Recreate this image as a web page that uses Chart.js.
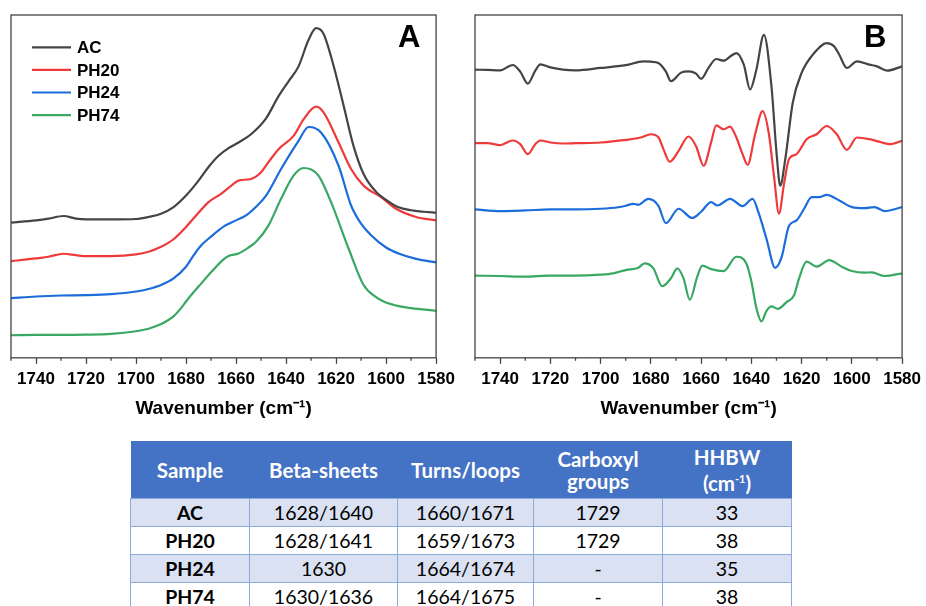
<!DOCTYPE html>
<html>
<head>
<meta charset="utf-8">
<script src="https://cdn.jsdelivr.net/npm/chart.js@4.4.1/dist/chart.umd.min.js"></script>
<style>
  html, body { margin: 0; padding: 0; background: #fff; }
  body { width: 926px; height: 606px; position: relative; overflow: hidden; }
  canvas { position: absolute; top: 0; }
  #chartA { left: 0; }
  #chartB { left: 460px; }
  table {
    position: absolute; left: 130px; top: 441px;
    border-collapse: collapse; table-layout: fixed;
    font-family: Lato, "Open Sans", sans-serif; font-size: 19.5px; color: #000;
  }
  th {
    background: #4472c4; color: #fff; font-weight: bold; font-size: 20.5px;
    height: 57px; padding: 0; line-height: 22px; text-align: center;
    border-bottom: 1px solid #8eaadb;
  }
  th sup { font-size: 11px; }
  td { height: 27px; padding: 0; text-align: center; border: 1px solid #8eaadb; line-height: 27px; }
  td.name { font-weight: bold; }
  tbody tr:nth-child(odd) td { background: #d9e1f2; }
</style>
</head>
<body>
<canvas id="chartA" width="460" height="425"></canvas>
<canvas id="chartB" width="466" height="425"></canvas>
<table id="peaks">
  <colgroup>
    <col style="width:119px"><col style="width:148px"><col style="width:136px"><col style="width:129px"><col style="width:129px">
  </colgroup>
  <thead><tr id="head"></tr></thead>
  <tbody id="rows"></tbody>
</table>
<script>
const axisColor = "#444";
const colors = { AC: "#444444", PH20: "#ee3a3a", PH24: "#1b6ddb", PH74: "#38a863" };
const samples = ["AC", "PH20", "PH24", "PH74"];

// panel A: absorbance (offset, a.u.)
const aWaveAC   = [1750,1740,1735,1729,1724,1720,1710,1700,1695,1690,1685,1680,1675,1671,1667,1663,1659,1654,1648,1643,1639,1635,1631,1628,1625,1621,1617,1613,1609,1604,1600,1595,1590,1585,1580];
const aAbsAC    = [1.36,1.383,1.40,1.427,1.40,1.393,1.393,1.397,1.417,1.45,1.517,1.633,1.783,1.92,2.033,2.11,2.167,2.25,2.41,2.633,2.783,2.933,3.20,3.317,3.26,2.94,2.54,2.13,1.85,1.67,1.59,1.515,1.485,1.47,1.46];
const aWavePH20 = [1750,1740,1735,1729,1724,1720,1710,1700,1695,1690,1685,1680,1675,1671,1666,1662,1659,1654,1650,1647,1643,1637,1633,1628,1625,1619,1614,1609,1602,1596,1588,1580];
const aAbsPH20  = [0.973,1.00,1.017,1.047,1.033,1.023,1.023,1.04,1.067,1.117,1.193,1.317,1.46,1.567,1.65,1.73,1.783,1.80,1.867,1.97,2.10,2.233,2.40,2.527,2.47,2.167,1.90,1.733,1.617,1.50,1.417,1.383];
const aWavePH24 = [1750,1740,1730,1720,1710,1700,1695,1690,1685,1680,1677,1674,1670,1665,1660,1656,1652,1648,1642,1635,1631,1626,1619,1614,1610,1606,1600,1595,1588,1580];
const aAbsPH24  = [0.60,0.617,0.627,0.63,0.64,0.667,0.693,0.733,0.80,0.917,1.03,1.13,1.22,1.32,1.383,1.433,1.52,1.633,1.90,2.183,2.323,2.267,1.933,1.533,1.35,1.233,1.11,1.05,0.995,0.96];
const aWavePH74 = [1750,1740,1720,1710,1700,1695,1690,1685,1682,1680,1677,1675,1670,1665,1663,1659,1655,1652,1647,1642,1637,1633,1630,1627,1622,1615,1609,1604,1601,1595,1590,1580];
const aAbsPH74  = [0.227,0.23,0.233,0.24,0.267,0.293,0.34,0.417,0.50,0.567,0.66,0.717,0.86,0.99,1.025,1.05,1.11,1.167,1.333,1.60,1.833,1.91,1.895,1.833,1.567,1.10,0.733,0.61,0.567,0.52,0.50,0.473];

// panel B: second derivative (offset, a.u.)
const bWaveAC   = [1750,1745,1740,1735,1732,1729,1726,1724,1720,1715,1710,1700,1690,1683,1680,1677,1674,1672,1668,1665,1662,1660,1657,1654,1651,1648,1646,1643,1640.5,1638,1635,1632,1630,1628.5,1626.5,1623.5,1620,1615,1610,1607,1605,1602,1598,1593,1590,1586,1580];
const bValAC    = [2.90,2.897,2.893,2.947,2.88,2.76,2.89,2.953,2.923,2.90,2.893,2.917,2.945,2.983,2.98,2.967,2.88,2.783,2.87,2.883,2.86,2.807,2.92,3.007,2.99,3.04,3.067,2.95,2.70,2.90,3.25,2.733,2.07,1.733,2.00,2.57,2.867,3.067,3.167,3.133,3.05,2.917,2.983,2.95,2.933,2.89,2.933];
const bWavePH20 = [1750,1745,1740,1735,1732,1729,1726,1724,1720,1715,1710,1700,1690,1684,1680,1677,1675,1672.5,1669,1665,1662,1659,1656,1654,1651,1648.5,1646,1643.5,1641.5,1638.5,1635.5,1633,1631,1629,1627,1625,1622,1618,1614,1610,1606,1602,1598,1593,1588,1585,1580];
const bValPH20  = [2.16,2.16,2.14,2.187,2.15,2.05,2.15,2.187,2.167,2.157,2.16,2.167,2.193,2.217,2.25,2.22,2.10,1.973,2.08,2.227,2.13,1.933,2.17,2.34,2.30,2.327,2.22,2.05,1.943,2.25,2.483,2.25,1.83,1.45,1.75,2.00,2.05,2.20,2.25,2.333,2.25,2.093,2.217,2.20,2.167,2.15,2.183];
const bWavePH24 = [1750,1740,1730,1720,1710,1700,1693,1690,1687,1685,1681,1677,1674,1669,1663.5,1660,1656,1653.5,1648.5,1643.5,1639.5,1637,1634,1630.5,1628,1625,1622,1619,1616,1613,1610,1605,1600,1595,1591,1587,1580];
const bValPH24  = [1.493,1.477,1.483,1.493,1.493,1.50,1.515,1.53,1.55,1.54,1.60,1.53,1.355,1.50,1.407,1.47,1.567,1.533,1.60,1.527,1.60,1.45,1.20,0.905,1.01,1.33,1.383,1.50,1.617,1.617,1.64,1.583,1.517,1.507,1.517,1.477,1.517];
const bWavePH74 = [1750,1740,1730,1720,1710,1700,1695,1690,1685,1682.5,1679,1675.5,1672,1669.5,1667,1664.5,1661.5,1659.5,1656,1651,1646,1642,1640,1638,1636,1634,1632,1629.5,1626,1623,1621,1618,1614,1609,1604,1600,1595,1592,1587,1580];
const bValPH74  = [0.827,0.823,0.817,0.827,0.827,0.837,0.85,0.883,0.907,0.95,0.90,0.72,0.80,0.90,0.80,0.583,0.82,0.927,0.893,0.873,1.017,0.95,0.77,0.50,0.367,0.47,0.517,0.493,0.56,0.63,0.80,0.967,0.917,0.983,0.917,0.873,0.857,0.86,0.823,0.85];

// table values
const betaSheets = ["1628/1640", "1628/1641", "1630", "1630/1636"];
const turnsLoops = ["1660/1671", "1659/1673", "1664/1674", "1664/1675"];
const carboxyl   = ["1729", "1729", "-", "-"];
const hhbw       = ["33", "38", "35", "38"];

const pts = (xs, ys) => xs.map((x, i) => ({ x, y: ys[i] }));
const ds = (name, xs, ys) => ({
  label: name, data: pts(xs, ys), borderColor: colors[name], borderWidth: 2.2,
  pointRadius: 0, cubicInterpolationMode: "monotone", fill: false
});

const frame = {
  id: "frame",
  afterDraw(chart, args, opts) {
    const { ctx, chartArea: a } = chart;
    const x = chart.scales.x;
    ctx.save();
    ctx.strokeStyle = axisColor;
    ctx.lineWidth = 1.3;
    ctx.strokeRect(a.left, a.top, a.right - a.left, a.bottom - a.top);
    for (let v = 1750; v >= 1580; v -= 10) {
      if (v % 20 === 0) continue;
      const px = x.getPixelForValue(v);
      ctx.beginPath(); ctx.moveTo(px, a.bottom); ctx.lineTo(px, a.bottom + 3); ctx.stroke();
    }
    ctx.fillStyle = "#000";
    ctx.font = "bold 31px 'Liberation Sans', Arial, sans-serif";
    ctx.textAlign = "center";
    ctx.textBaseline = "alphabetic";
    ctx.fillText(opts.letter, a.right - 27, a.top + 32);
    if (opts.legend) {
      ctx.font = "bold 17px 'Liberation Sans', Arial, sans-serif";
      ctx.textAlign = "left";
      ctx.textBaseline = "middle";
      chart.data.datasets.forEach((d, i) => {
        const y = a.top + 32.3 + i * 22.6;
        ctx.strokeStyle = d.borderColor; ctx.lineWidth = 2.2;
        ctx.beginPath(); ctx.moveTo(a.left + 21, y); ctx.lineTo(a.left + 60, y); ctx.stroke();
        ctx.fillText(d.label, a.left + 66, y + 1);
      });
    }
    ctx.restore();
  }
};

function options(letter, legend, pad) {
  return {
    responsive: false, animation: false,
    layout: { padding: pad },
    plugins: { legend: { display: false }, tooltip: { enabled: false }, frame: { letter, legend } },
    scales: {
      x: {
        type: "linear", reverse: true, min: 1580, max: 1750,
        ticks: {
          stepSize: 10, autoSkip: false, maxRotation: 0, padding: 5, color: "#000",
          font: { family: "'Liberation Sans', Arial, sans-serif", size: 17, weight: "bold" },
          callback: v => (v % 20 === 0 ? String(v) : "")
        },
        grid: {
          drawOnChartArea: false, tickLength: 6, tickWidth: 1.3,
          tickColor: c => (c.tick && c.tick.value % 20 === 0 ? axisColor : "rgba(0,0,0,0)")
        },
        border: { display: false },
        title: {
          display: true, text: "Wavenumber (cm\u207B\u00B9)", color: "#000",
          padding: { top: 3, bottom: 4 },
          font: { family: "'Liberation Sans', Arial, sans-serif", size: 19, weight: "bold" }
        }
      },
      y: { display: false, min: 0, max: 3.45 }
    }
  };
}

new Chart(document.getElementById("chartA"), {
  type: "line",
  data: { datasets: [
    ds("AC", aWaveAC, aAbsAC), ds("PH20", aWavePH20, aAbsPH20),
    ds("PH24", aWavePH24, aAbsPH24), ds("PH74", aWavePH74, aAbsPH74)
  ] },
  options: options("A", true, { left: 11, top: 15, right: 21, bottom: 1 }),
  plugins: [frame]
});

new Chart(document.getElementById("chartB"), {
  type: "line",
  data: { datasets: [
    ds("AC", bWaveAC, bValAC), ds("PH20", bWavePH20, bValPH20),
    ds("PH24", bWavePH24, bValPH24), ds("PH74", bWavePH74, bValPH74)
  ] },
  options: options("B", false, { left: 15, top: 15, right: 23, bottom: 1 }),
  plugins: [frame]
});

document.getElementById("head").innerHTML =
  ["Sample", "Beta-sheets", "Turns/loops", "Carboxyl<br>groups", "HHBW<br>(cm<sup>-1</sup>)"]
    .map(h => `<th>${h}</th>`).join("");
document.getElementById("rows").innerHTML = samples.map((s, i) => `<tr>
    <td class="name">${s}</td>
    <td>${betaSheets[i]}</td>
    <td>${turnsLoops[i]}</td>
    <td>${carboxyl[i]}</td>
    <td>${hhbw[i]}</td>
  </tr>`).join("");
</script>
</body>
</html>
